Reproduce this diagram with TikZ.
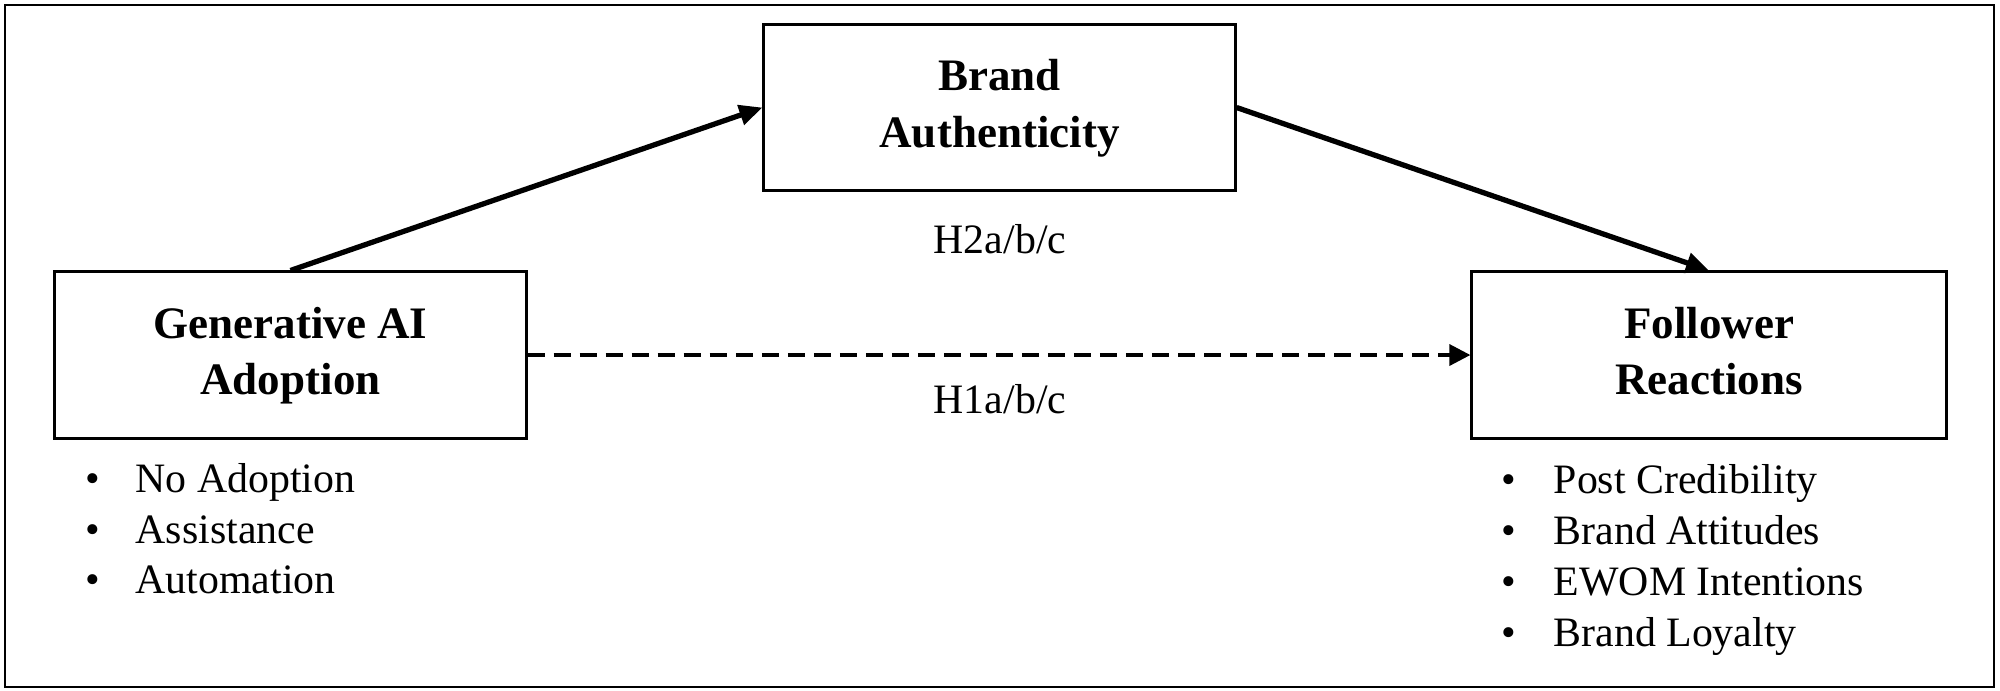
\documentclass[tikz,border=0pt]{standalone}
\usepackage{fontspec}
\setmainfont{Liberation Serif}
\usetikzlibrary{arrows.meta}
\newcommand{\boxlines}[2]{\raisebox{-0.08cm}{\begin{tabular}{@{}c@{}}#1\\#2\end{tabular}}}
\begin{document}
\begin{tikzpicture}[x=0.01cm,y=-0.01cm,
  box/.style={draw, line width=0.85pt, minimum width=4.71cm, minimum height=1.66cm,
    inner sep=0pt, font=\fontsize{12.8pt}{16.1pt}\selectfont\bfseries},
  lbl/.style={inner sep=0pt, font=\fontsize{11.9pt}{14.5pt}\selectfont},
  itemtxt/.style={lbl, anchor=base west},
  solidarr/.style={line width=1.5pt, -{Triangle[length=0.23cm, width=0.2cm]}},
  dasharr/.style={line width=1pt, dash pattern=on 0.17cm off 0.09cm,
    -{Triangle[length=0.21cm, width=0.21cm]}}]
\useasboundingbox (0,0) rectangle (2000,690);
\draw[line width=0.8pt] (5,5) rectangle (1994,687);

\node[box] (ba) at (999.5,107.5) {\boxlines{Brand}{Authenticity}};
\node[box] (gen) at (290.5,355) {\boxlines{Generative AI}{Adoption}};
\node[box, minimum width=4.74cm] (fr) at (1709,355) {\boxlines{Follower}{Reactions}};

\node[lbl, anchor=base] (h2) at (1000,253) {H2a/b/c};
\node[lbl, anchor=base] (h1) at (1000,413) {H1a/b/c};

\node[itemtxt] (g1) at (85,492) {\makebox[0.5cm][l]{\textbullet}No Adoption};
\node[itemtxt] (g2) at (85,543) {\makebox[0.5cm][l]{\textbullet}Assistance};
\node[itemtxt] (g3) at (85,593) {\makebox[0.5cm][l]{\textbullet}Automation};

\node[itemtxt] (f1) at (1501,493) {\makebox[0.52cm][l]{\textbullet}Post Credibility};
\node[itemtxt] (f2) at (1501,544) {\makebox[0.52cm][l]{\textbullet}Brand Attitudes};
\node[itemtxt] (f3) at (1501,595) {\makebox[0.52cm][l]{\textbullet}EWOM Intentions};
\node[itemtxt] (f4) at (1501,646) {\makebox[0.52cm][l]{\textbullet}Brand Loyalty};

\draw[solidarr] (gen.north) -- (ba.west);
\draw[solidarr] (ba.east) -- (fr.north);
\draw[dasharr] (gen.east) -- (fr.west);
\end{tikzpicture}
\end{document}
